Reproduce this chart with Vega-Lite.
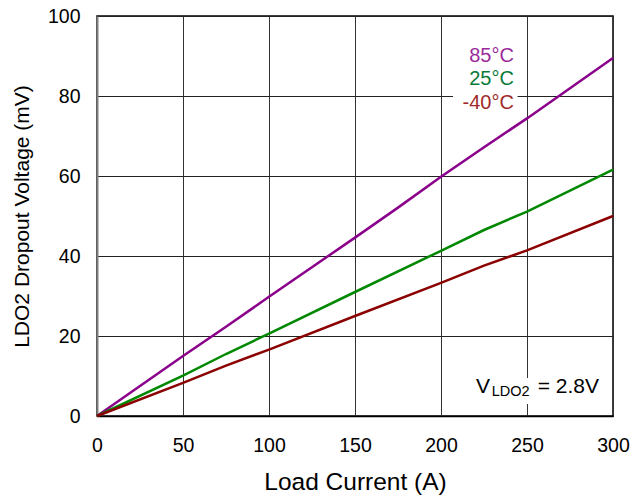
{
  "$schema": "https://vega.github.io/schema/vega-lite/v6.json",
  "width": 516,
  "height": 400,
  "autosize": "none",
  "padding": {"left": 97, "top": 16, "right": 18, "bottom": 79},
  "background": "white",
  "config": {
    "font": "Liberation Sans",
    "view": {"stroke": "black", "strokeWidth": 1.5},
    "axis": {"labelFont": "Liberation Sans", "titleFont": "Liberation Sans", "labelColor": "black", "titleColor": "black", "titleFontWeight": "normal", "gridColor": "#222222", "gridWidth": 1, "gridOpacity": 1, "ticks": false, "tickSize": 0, "labelFlush": false, "labelOverlap": false, "labelBound": false}
  },
  "datasets": {
    "series": [
      {"current": 0, "voltage": 0, "temp": "85°C"},
      {"current": 50, "voltage": 15, "temp": "85°C"},
      {"current": 75, "voltage": 22.3, "temp": "85°C"},
      {"current": 100, "voltage": 29.8, "temp": "85°C"},
      {"current": 150, "voltage": 44.6, "temp": "85°C"},
      {"current": 175, "voltage": 52.1, "temp": "85°C"},
      {"current": 200, "voltage": 59.8, "temp": "85°C"},
      {"current": 225, "voltage": 67.2, "temp": "85°C"},
      {"current": 250, "voltage": 74.4, "temp": "85°C"},
      {"current": 300, "voltage": 89.5, "temp": "85°C"},
      {"current": 0, "voltage": 0, "temp": "25°C"},
      {"current": 50, "voltage": 10.1, "temp": "25°C"},
      {"current": 75, "voltage": 15.5, "temp": "25°C"},
      {"current": 100, "voltage": 20.6, "temp": "25°C"},
      {"current": 150, "voltage": 31, "temp": "25°C"},
      {"current": 200, "voltage": 41.3, "temp": "25°C"},
      {"current": 225, "voltage": 46.5, "temp": "25°C"},
      {"current": 250, "voltage": 51.1, "temp": "25°C"},
      {"current": 300, "voltage": 61.6, "temp": "25°C"},
      {"current": 0, "voltage": 0, "temp": "-40°C"},
      {"current": 50, "voltage": 8.3, "temp": "-40°C"},
      {"current": 75, "voltage": 12.6, "temp": "-40°C"},
      {"current": 100, "voltage": 16.6, "temp": "-40°C"},
      {"current": 150, "voltage": 25, "temp": "-40°C"},
      {"current": 200, "voltage": 33.3, "temp": "-40°C"},
      {"current": 225, "voltage": 37.6, "temp": "-40°C"},
      {"current": 250, "voltage": 41.4, "temp": "-40°C"},
      {"current": 300, "voltage": 50, "temp": "-40°C"}
    ],
    "boxes": [
      {"x1": 207, "x2": 244.5, "y1": 76.5, "y2": 82},
      {"x1": 217, "x2": 295, "y1": 3, "y2": 9.5}
    ],
    "labels": [
      {"current": 242.4, "voltage": 88.5, "text": "85°C", "color": "#9A2A9A"},
      {"current": 242.4, "voltage": 82.75, "text": "25°C", "color": "#0A7A3A"},
      {"current": 242.4, "voltage": 76.75, "text": "-40°C", "color": "#A02A2A"}
    ]
  },
  "layer": [
    {
      "data": {"name": "boxes"},
      "mark": {"type": "rect", "color": "white"},
      "encoding": {
        "x": {"field": "x1", "type": "quantitative", "scale": {"domain": [0, 300]}},
        "x2": {"field": "x2"},
        "y": {"field": "y1", "type": "quantitative", "scale": {"domain": [0, 100]}},
        "y2": {"field": "y2"}
      }
    },
    {
      "data": {"name": "series"},
      "mark": {"type": "line", "strokeWidth": 2.5},
      "encoding": {
        "x": {"field": "current", "type": "quantitative", "scale": {"domain": [0, 300], "nice": false},
          "axis": {"title": "Load Current (A)", "values": [0, 50, 100, 150, 200, 250, 300], "labelFontSize": 19.5, "labelPadding": 20, "titleFontSize": 24.5, "titleY": 73, "titleBaseline": "alphabetic", "domainColor": "black", "domainWidth": 1.5, "gridColor": "#333333"}},
        "y": {"field": "voltage", "type": "quantitative", "scale": {"domain": [0, 100], "nice": false},
          "axis": {"title": "LDO2 Dropout Voltage (mV)", "values": [0, 20, 40, 60, 80, 100], "labelFontSize": 19.5, "labelPadding": 17, "titleFontSize": 21, "titleX": -69, "titleBaseline": "alphabetic", "domainColor": "#808080", "domainWidth": 2}},
        "color": {"field": "temp", "type": "nominal", "scale": {"domain": ["85°C", "25°C", "-40°C"], "range": ["#8B008B", "#008800", "#8B0000"]}, "legend": null},
        "detail": {"field": "temp"}
      }
    },
    {
      "data": {"name": "labels"},
      "mark": {"type": "text", "align": "right", "baseline": "alphabetic", "fontSize": 20},
      "encoding": {
        "x": {"field": "current", "type": "quantitative"},
        "y": {"field": "voltage", "type": "quantitative"},
        "text": {"field": "text"},
        "color": {"field": "color", "type": "nominal", "scale": null}
      }
    },
    {
      "data": {"values": [{"current": 220.3, "voltage": 5.75, "text": "V"}]},
      "mark": {"type": "text", "align": "left", "baseline": "alphabetic", "fontSize": 21, "color": "black"},
      "encoding": {
        "x": {"field": "current", "type": "quantitative"},
        "y": {"field": "voltage", "type": "quantitative"},
        "text": {"field": "text"}
      }
    },
    {
      "data": {"values": [{"current": 229.5, "voltage": 5, "text": "LDO2"}]},
      "mark": {"type": "text", "align": "left", "baseline": "alphabetic", "fontSize": 14.5, "color": "black"},
      "encoding": {
        "x": {"field": "current", "type": "quantitative"},
        "y": {"field": "voltage", "type": "quantitative"},
        "text": {"field": "text"}
      }
    },
    {
      "data": {"values": [{"current": 291.9, "voltage": 5.75, "text": "= 2.8V"}]},
      "mark": {"type": "text", "align": "right", "baseline": "alphabetic", "fontSize": 21, "color": "black"},
      "encoding": {
        "x": {"field": "current", "type": "quantitative"},
        "y": {"field": "voltage", "type": "quantitative"},
        "text": {"field": "text"}
      }
    }
  ]
}
